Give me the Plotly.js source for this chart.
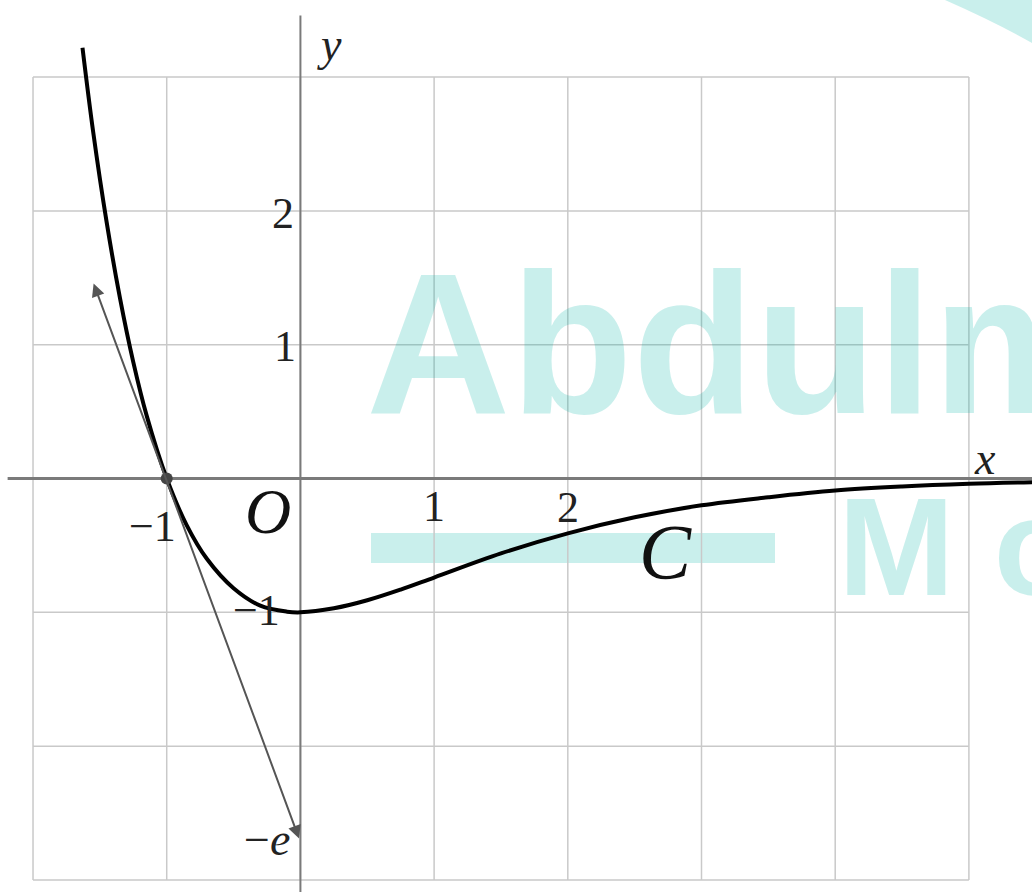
<!DOCTYPE html>
<html><head><meta charset="utf-8">
<script src="https://cdn.plot.ly/plotly-3.0.1.min.js"></script>
<style>html,body{margin:0;padding:0;background:#fff;overflow:hidden}#chart{width:1032px;height:892px}</style>
</head><body><div id="chart"></div>
<script>
// Curve C, points
const curveX = [-1.63, -1.55, -1.45, -1.35, -1.25, -1.15, -1.0, -0.85, -0.7, -0.5, -0.3, -0.1, 0.0, 0.25, 0.5, 0.75, 1.0, 1.5, 2.0, 2.5, 3.0, 3.5, 4.0, 4.5, 5.0, 5.5];
const curveY = [3.22, 2.59, 1.92, 1.35, 0.87, 0.47, 0.0, -0.35, -0.60, -0.82, -0.95, -0.995, -1.0, -0.97, -0.91, -0.83, -0.74, -0.56, -0.41, -0.29, -0.20, -0.14, -0.09, -0.06, -0.04, -0.027];
// Tangent line at (-1, 0), arrow ends
const tangentX = [-1.551, -0.01];
const tangentY = [1.469, -2.69];
// Marked point
const pointX = [-1];
const pointY = [0];
// Grid
const gridX = [-2, -1, 0, 1, 2, 3, 4, 5];
const gridY = [-3, -2, -1, 0, 1, 2, 3];
// Labels
const labelText = ['2', '1', '\u22121', '\u22121', '1', '2'];
const labelX = [-0.13, -0.115, -0.325, -1.11, 1.0, 2.0];
const labelY = [1.977, 0.985, -0.983, -0.362, -0.206, -0.213];

const XR = [-2.247, 5.472], YR = [-3.090, 3.576];
const gridColor = '#c9c9c9';
const teal = 'rgba(0,178,165,0.21)';

const shapes = [];
// watermark pieces
shapes.push({type:'rect', xref:'paper', yref:'paper', x0:371/1032, x1:775/1032, y0:1-563/892, y1:1-533/892, fillcolor:teal, line:{width:0}, layer:'below'});
shapes.push({type:'path', xref:'paper', yref:'paper', path:`M ${945/1032} 1 L 1 1 L 1 ${1-43/892} Q ${995/1032} ${1-22/892} ${945/1032} 1 Z`, fillcolor:teal, line:{width:0}, layer:'below'});
gridX.forEach(v => shapes.push({type:'line', x0:v, x1:v, y0:gridY[0], y1:gridY[gridY.length-1], line:{color:gridColor, width:1.5}, layer:'below'}));
gridY.forEach(v => shapes.push({type:'line', y0:v, y1:v, x0:gridX[0], x1:gridX[gridX.length-1], line:{color:gridColor, width:1.5}, layer:'below'}));
// axes
shapes.push({type:'line', x0:-2.19, x1:XR[1], y0:0, y1:0, line:{color:'#7a7a7a', width:3}, layer:'below'});
shapes.push({type:'line', x0:0, x1:0, y0:YR[0], y1:3.46, line:{color:'#7a7a7a', width:2}, layer:'below'});

const serif = 'Liberation Serif';
const annotations = [];
annotations.push({xref:'paper', yref:'paper', x:364/1032, y:1-230/892, xanchor:'left', yanchor:'top', text:'<b>Abdulm</b>', showarrow:false, font:{family:'Liberation Sans', size:200, color:teal}});
annotations.push({xref:'paper', yref:'paper', x:836/1032, y:1-466/892, xanchor:'left', yanchor:'top', text:'<b>M o</b>', showarrow:false, font:{family:'Liberation Sans', size:140, color:teal}});
annotations.push({x:tangentX[1], y:tangentY[1], ax:tangentX[0], ay:tangentY[0], axref:'x', ayref:'y', xref:'x', yref:'y', text:'', showarrow:true, arrowside:'end+start', arrowhead:2, arrowsize:1.3, arrowwidth:2, arrowcolor:'#555', standoff:0, startstandoff:0});
labelText.forEach((t, i) => annotations.push({x:labelX[i], y:labelY[i], text:t, showarrow:false, xanchor:'center', yanchor:'middle', font:{family:serif, size:44, color:'#222'}}));
annotations.push({x:-0.25, y:-2.70, text:'\u2212<i>e</i>', showarrow:false, font:{family:serif, size:46, color:'#222'}});
annotations.push({x:-0.242, y:-0.25, text:'<i>O</i>', showarrow:false, font:{family:serif, size:64, color:'#111'}});
annotations.push({x:2.727, y:-0.549, text:'<i>C</i>', showarrow:false, font:{family:serif, size:78, color:'#111'}});
annotations.push({x:0.214, y:3.24, text:'<i>y</i>', showarrow:false, font:{family:serif, size:46, color:'#222'}});
annotations.push({x:5.119, y:0.146, text:'<i>x</i>', showarrow:false, font:{family:serif, size:46, color:'#222'}});

const traces = [
  {x:curveX, y:curveY, mode:'lines', line:{color:'#000', width:4, shape:'spline', smoothing:1}, hoverinfo:'skip'},
  {x:pointX, y:pointY, mode:'markers', marker:{color:'#444', size:12}, hoverinfo:'skip'}
];

const layout = {
  width:1032, height:892, margin:{l:0, r:0, t:0, b:0},
  paper_bgcolor:'#fff', plot_bgcolor:'#fff', showlegend:false,
  xaxis:{range:XR, visible:false, showgrid:false, zeroline:false, fixedrange:true},
  yaxis:{range:YR, visible:false, showgrid:false, zeroline:false, fixedrange:true},
  shapes, annotations
};
Plotly.newPlot('chart', traces, layout, {staticPlot:true, displayModeBar:false});
</script></body></html>
